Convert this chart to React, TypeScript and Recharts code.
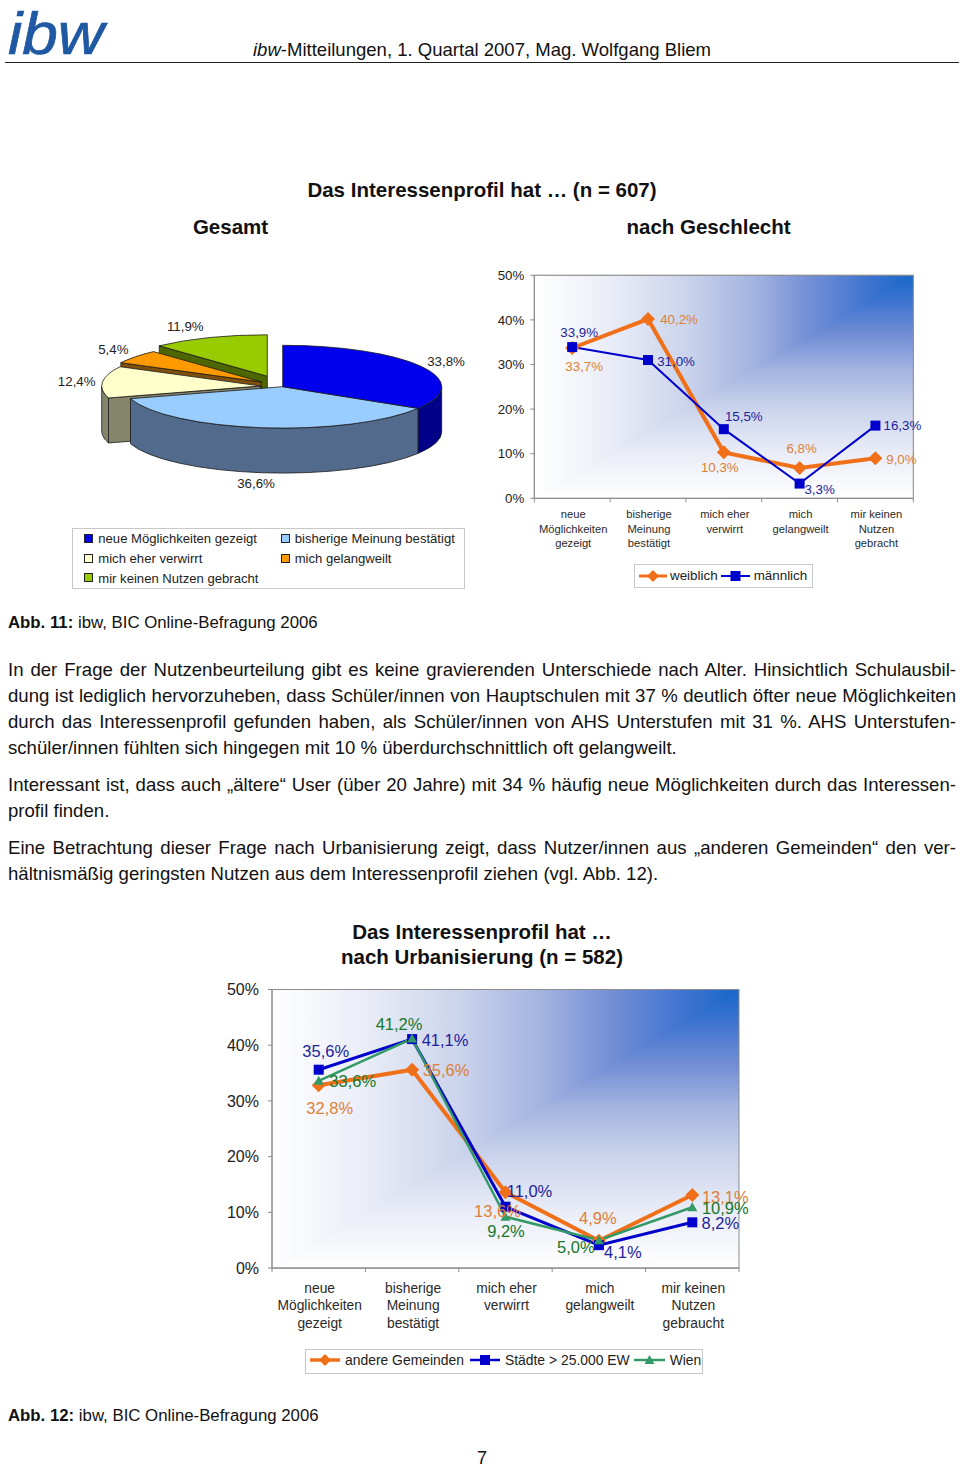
import React from 'react';
import { PieChart, Pie, LineChart, Line, XAxis, YAxis, CartesianGrid, ReferenceArea, LabelList, Legend } from 'recharts';

// ---------- data ----------
const pieCategories = ['neue Möglichkeiten gezeigt', 'bisherige Meinung bestätigt', 'mich eher verwirrt', 'mich gelangweilt', 'mir keinen Nutzen gebracht'];
const pieValues = [33.8, 36.6, 12.4, 5.4, 11.9];

const genderCategories = ['neue\nMöglichkeiten\ngezeigt', 'bisherige\nMeinung\nbestätigt', 'mich eher\nverwirrt', 'mich\ngelangweilt', 'mir keinen\nNutzen\ngebracht'];
const weiblichValues = [33.7, 40.2, 10.3, 6.8, 9.0];
const maennlichValues = [33.9, 31.0, 15.5, 3.3, 16.3];

const urbanCategories = ['neue\nMöglichkeiten\ngezeigt', 'bisherige\nMeinung\nbestätigt', 'mich eher\nverwirrt', 'mich\ngelangweilt', 'mir keinen\nNutzen\ngebraucht'];
const andereValues = [32.8, 35.6, 13.6, 4.9, 13.1];
const staedteValues = [35.6, 41.1, 11.0, 4.1, 8.2];
const wienValues = [33.6, 41.2, 9.2, 5.0, 10.9];

const percentTicks = [0, 10, 20, 30, 40, 50];

const bodyLines = [
  { y: 670, t: 'In der Frage der Nutzenbeurteilung gibt es keine gravierenden Unterschiede nach Alter. Hinsichtlich Schulausbil-', j: true },
  { y: 696, t: 'dung ist lediglich hervorzuheben, dass Schüler/innen von Hauptschulen mit 37 % deutlich öfter neue Möglichkeiten', j: true },
  { y: 722, t: 'durch das Interessenprofil gefunden haben, als Schüler/innen von AHS Unterstufen mit 31 %. AHS Unterstufen-', j: true },
  { y: 748, t: 'schüler/innen fühlten sich hingegen mit 10 % überdurchschnittlich oft gelangweilt.', j: false },
  { y: 785, t: 'Interessant ist, dass auch „ältere“ User (über 20 Jahre) mit 34 % häufig neue Möglichkeiten durch das Interessen-', j: true },
  { y: 811, t: 'profil finden.', j: false },
  { y: 848, t: 'Eine Betrachtung dieser Frage nach Urbanisierung zeigt, dass Nutzer/innen aus „anderen Gemeinden“ den ver-', j: true },
  { y: 874, t: 'hältnismäßig geringsten Nutzen aus dem Interessenprofil ziehen (vgl. Abb. 12).', j: false },
];

// ---------- styles / layout (separate from the data) ----------
const FONT = '"Liberation Sans", Arial, sans-serif';
const sliceStyle = [
  { top: '#0000ee', wall: '#000088', dx: 0, dy: 0, lx: 163.3, ly: -25.7 },
  { top: '#99ccff', wall: '#526a8c', dx: 0, dy: 0, lx: -26.7, ly: 96.3 },
  { top: '#ffffcc', wall: '#85856c', dx: -22, dy: -0.7, lx: -206, ly: -5 },
  { top: '#ff9900', wall: '#7f4f0c', dx: -21.2, dy: -4.7, lx: -169.4, ly: -37.7 },
  { top: '#99cc00', wall: '#4d6600', dx: -15.4, dy: -10.5, lx: -97.4, ly: -60.7 },
];
const RX = 159, RY = 41.4, DEPTH = 45;

const pieData = pieCategories
  .map((name, i) => ({ name, value: pieValues[i], idx: i }))
  .reverse();

const rad = (d: number) => (d * Math.PI) / 180;
const pt = (cx: number, cy: number, t: number) => [cx + RX * Math.sin(rad(t)), cy - RY * Math.cos(rad(t))];

function Slice3D(p: any) {
  const idx = p.idx ?? p.payload?.idx ?? 0;
  const s = sliceStyle[idx];
  const cx = p.cx + s.dx, cy = p.cy + s.dy;
  const span = Math.abs(p.endAngle - p.startAngle);
  const t1 = (((90 - Math.max(p.startAngle, p.endAngle)) % 360) + 360) % 360;
  const t2 = t1 + span;
  const [ax, ay] = pt(cx, cy, t1);
  const [bx, by] = pt(cx, cy, t2);
  const large = span > 180 ? 1 : 0;
  const wa = Math.max(t1, 90), wb = Math.min(t2, 270);
  const stroke = '#1c1c1c';
  const els: any[] = [];
  if (t1 > 180) {
    els.push(<path key="f" d={`M${cx} ${cy}L${ax} ${ay}L${ax} ${ay + DEPTH}L${cx} ${cy + DEPTH}Z`} fill={s.wall} stroke={stroke} strokeWidth={0.8} />);
  }
  if (wb > wa) {
    const [wx1, wy1] = pt(cx, cy, wa);
    const [wx2, wy2] = pt(cx, cy, wb);
    els.push(<path key="w" d={`M${wx1} ${wy1}A${RX} ${RY} 0 0 1 ${wx2} ${wy2}L${wx2} ${wy2 + DEPTH}A${RX} ${RY} 0 0 0 ${wx1} ${wy1 + DEPTH}Z`} fill={s.wall} stroke={stroke} strokeWidth={0.8} />);
  }
  els.push(<path key="t" d={`M${cx} ${cy}L${ax} ${ay}A${RX} ${RY} 0 ${large} 1 ${bx} ${by}Z`} fill={s.top} stroke={stroke} strokeWidth={0.8} />);
  return <g>{els}</g>;
}

function PieLabel(p: any) {
  const idx = p.idx ?? p.payload?.idx ?? 0;
  const s = sliceStyle[idx];
  return (
    <text x={p.cx + s.lx} y={p.cy + s.ly} textAnchor="middle" dominantBaseline="central" fontSize={13.3} fontFamily={FONT} fill="#222">
      {fmt(p.value)}
    </text>
  );
}

const fmt = (v: number) => v.toFixed(1).replace('.', ',') + '%';

const STOPS: [number, string][] = [[0, '#1767c9'], [0.12, '#3f74d0'], [0.28, '#7690d6'], [0.42, '#a2b3e0'], [0.6, '#cbd4ec'], [0.8, '#eaedf7'], [1, '#ffffff']];

function PlotBg({ x, y, width: w, height: h, gid }: any) {
  return (
    <g>
      <defs>
        <linearGradient id={gid + 'h'} x1="1" y1="0" x2="0" y2="0">
          {STOPS.map(([o, c]) => <stop key={o} offset={o} stopColor={c} />)}
        </linearGradient>
        <linearGradient id={gid + 'v'} x1="0" y1="0" x2="0" y2="1">
          {STOPS.map(([o, c]) => <stop key={o} offset={o} stopColor={c} />)}
        </linearGradient>
      </defs>
      <rect x={x} y={y} width={w} height={h} fill={`url(#${gid}h)`} />
      <polygon points={`${x + w},${y} ${x + w},${y + h} ${x},${y + h}`} fill={`url(#${gid}v)`} />
      <rect x={x} y={y} width={w} height={h} fill="none" stroke="#8c8c8c" strokeWidth={1} />
    </g>
  );
}

function CatTick({ x, y, payload, index, band, fs, lh, first, last }: any) {
  const lines = String(payload.value).split('\n');
  return (
    <g>
      <line x1={x - band / 2} x2={x - band / 2} y1={y} y2={y + 4} stroke="#8c8c8c" />
      {index === last && <line x1={x + band / 2} x2={x + band / 2} y1={y} y2={y + 4} stroke="#8c8c8c" />}
      <text textAnchor="middle" fontSize={fs} fontFamily={FONT} fill="#2a2a2a">
        {lines.map((l: string, i: number) => (
          <tspan key={i} x={x + 1} y={y + first + i * lh} dominantBaseline="central">{l}</tspan>
        ))}
      </text>
    </g>
  );
}

type Off = [number, number][];
const valueLabel = (offsets: Off, color: string, fs: number) => (p: any) => {
  const [dx, dy] = offsets[p.index];
  return (
    <text key={p.index} x={p.x + dx} y={p.y + dy} textAnchor="middle" dominantBaseline="central" fontSize={fs} fontFamily={FONT} fill={color}>
      {fmt(Number(p.value))}
    </text>
  );
};

const marker = (kind: string, color: string, r: number) => (p: any) => {
  const { cx, cy, index } = p;
  if (kind === 'diamond') return <polygon key={index} points={`${cx},${cy - r} ${cx + r},${cy} ${cx},${cy + r} ${cx - r},${cy}`} fill={color} />;
  if (kind === 'square') return <rect key={index} x={cx - r} y={cy - r} width={2 * r} height={2 * r} fill={color} />;
  return <polygon key={index} points={`${cx},${cy - r} ${cx + r},${cy + r * 0.8} ${cx - r},${cy + r * 0.8}`} fill={color} />;
};

const LG = ({ kind, color, w, sw, r }: any) => (
  <svg width={w} height={16} style={{ display: 'block', flex: 'none' }}>
    <line x1={0} x2={w} y1={8} y2={8} stroke={color} strokeWidth={sw} />
    {marker(kind, color, r)({ cx: w / 2, cy: 8, index: 0 })}
  </svg>
);

const ORANGE = '#f0701a', BLUE = '#0000cc', GREEN = '#339966';
const L_ORANGE = '#dd7f35', L_BLUE = '#22229c', L_GREEN = '#16782a';

const T = ({ x, y, s, b, center, children, c, lh }: any) => (
  <div style={{ position: 'absolute', left: x, top: y, transform: center ? 'translate(-50%,-50%)' : 'translateY(-50%)', fontSize: s, fontWeight: b ? 700 : 400, color: c || '#111', whiteSpace: 'nowrap', lineHeight: lh || 1.25 }}>{children}</div>
);

const genderData = genderCategories.map((c, i) => ({ c, w: weiblichValues[i], m: maennlichValues[i] }));
const urbanData = urbanCategories.map((c, i) => ({ c, a: andereValues[i], s: staedteValues[i], v: wienValues[i] }));

const wOff: Off = [[12, 19], [31, 0.5], [-4, 15], [2, -19], [26, 1]];
const mOff: Off = [[7, -15], [28, 1], [20, -13], [20, 6], [27, 0]];
const aOff: Off = [[11, 23], [34, 0], [-8, 19], [-1, -23], [33, 2]];
const sOff: Off = [[7, -19], [33, 1], [24, -16], [24, 7], [28, 1]];
const vOff: Off = [[34, 0], [-13, -14.5], [0.5, 14], [-23, 7], [33, 1]];

const pieSwatches = [[84.3, 538.5], [280.7, 538.5], [84.3, 558.5], [280.7, 558.5], [84.3, 578]];

export default function App() {
  return (
    <div style={{ position: 'absolute', left: 0, top: 0, width: 960, height: 1467, background: '#fff', overflow: 'hidden', fontFamily: FONT }}>
      {/* header */}
      <div style={{ position: 'absolute', left: 8, top: -1, height: 70, fontSize: 64, fontStyle: 'italic', color: '#1f58a3', lineHeight: '70px', transform: 'scaleY(0.92)', WebkitTextStroke: '0.8px #1f58a3' } as any}>ibw</div>
      <T x={253} y={49.5} s={18.55}><i>ibw</i>-Mitteilungen, 1. Quartal 2007, Mag. Wolfgang Bliem</T>
      <div style={{ position: 'absolute', left: 5, top: 62, width: 954, height: 1, background: '#222' }} />

      <T x={482} y={190} s={20.5} b center>Das Interessenprofil hat … (n = 607)</T>
      <T x={230.5} y={227} s={20.5} b center>Gesamt</T>
      <T x={708.5} y={227} s={20.5} b center>nach Geschlecht</T>

      {/* pie */}
      <div style={{ position: 'absolute', left: 40, top: 260 }}>
        <PieChart width={440} height={335} margin={{ top: 0, right: 0, bottom: 0, left: 0 }}>
          <Pie
            data={pieData}
            dataKey="value"
            nameKey="name"
            cx={242.7}
            cy={126.7}
            outerRadius={RX}
            startAngle={90}
            endAngle={450}
            isAnimationActive={false}
            shape={Slice3D as any}
            label={PieLabel as any}
            labelLine={false}
          />
          <Legend
            layout="horizontal"
            verticalAlign="middle"
            align="center"
            wrapperStyle={{ left: 32, top: 268, right: 'auto', bottom: 'auto', width: 393, height: 61 }}
            content={() => (
              <div style={{ position: 'relative', width: 393, height: 61, boxSizing: 'border-box', border: '1px solid #c8c8c8' }}>
                {pieCategories.map((c, i) => (
                  <React.Fragment key={c}>
                    <div style={{ position: 'absolute', left: pieSwatches[i][0] - 73, top: pieSwatches[i][1] - 534, width: 9, height: 9, boxSizing: 'border-box', background: sliceStyle[i].top, border: '1px solid #222' }} />
                    <div style={{ position: 'absolute', left: pieSwatches[i][0] - 73 + 14, top: pieSwatches[i][1] - 528.5 - 8, fontSize: 13.1, lineHeight: '16px', color: '#222', whiteSpace: 'nowrap' }}>{c}</div>
                  </React.Fragment>
                ))}
              </div>
            )}
          />
        </PieChart>
      </div>

      {/* gender */}
      <div style={{ position: 'absolute', left: 490, top: 260 }}>
        <LineChart width={450} height={340} data={genderData} margin={{ top: 15.3, right: 26.7, bottom: 0, left: 0 }}>
          <ReferenceArea y1={0} y2={50} ifOverflow="visible" shape={(p: any) => <PlotBg {...p} gid="g1" />} />
          <CartesianGrid vertical={false} stroke="#7f7f7f" strokeOpacity={0.75} />
          <XAxis dataKey="c" scale="band" height={101.7} interval={0} tickLine={false} tickSize={0} tickMargin={0} stroke="#8c8c8c"
            tick={(p: any) => <CatTick {...p} band={75.8} fs={11.2} lh={14.5} first={16} last={4} />} />
          <YAxis width={44.3} domain={[0, 50]} ticks={percentTicks} tickFormatter={(v: number) => `${v}%`} tickSize={4} tickMargin={6} stroke="#8c8c8c"
            tick={{ fontSize: 13.3, fontFamily: FONT, fill: '#222' }} />
          <Line dataKey="w" name="weiblich" stroke={ORANGE} strokeWidth={4} isAnimationActive={false} dot={marker('diamond', ORANGE, 7)}>
            <LabelList dataKey="w" content={valueLabel(wOff, L_ORANGE, 13.3)} />
          </Line>
          <Line dataKey="m" name="männlich" stroke={BLUE} strokeWidth={2} isAnimationActive={false} dot={marker('square', BLUE, 5)}>
            <LabelList dataKey="m" content={valueLabel(mOff, L_BLUE, 13.3)} />
          </Line>
          <Legend layout="horizontal" verticalAlign="middle" align="center"
            wrapperStyle={{ left: 144, top: 304, right: 'auto', bottom: 'auto', width: 179, height: 24 }}
            content={() => (
              <div style={{ width: 179, height: 24, boxSizing: 'border-box', border: '1px solid #c8c8c8', display: 'flex', alignItems: 'center', paddingLeft: 4, paddingBottom: 1, fontSize: 13.4, color: '#222', whiteSpace: 'nowrap' }}>
                <LG kind="diamond" color={ORANGE} w={28} sw={3} r={6} />
                <span style={{ marginLeft: 3 }}>weiblich</span>
                <span style={{ width: 3.5 }} />
                <LG kind="square" color={BLUE} w={29} sw={2} r={5} />
                <span style={{ marginLeft: 3.5 }}>männlich</span>
              </div>
            )} />
        </LineChart>
      </div>

      <T x={8} y={623} s={16.8}><b>Abb. 11:</b> ibw, BIC Online-Befragung 2006</T>

      {bodyLines.map((l) => (
        <div key={l.y} style={{ position: 'absolute', left: 8, top: l.y, width: 948, transform: 'translateY(-50%)', fontSize: 18.6, lineHeight: 1.25, color: '#111', whiteSpace: 'nowrap', textAlign: 'left', ...(l.j ? { textAlignLast: 'justify', whiteSpace: 'normal' } : {}) } as any}>{l.t}</div>
      ))}

      <T x={482} y={932} s={20.5} b center>Das Interessenprofil hat …</T>
      <T x={482} y={957} s={20.5} b center>nach Urbanisierung (n = 582)</T>

      {/* urbanisation */}
      <div style={{ position: 'absolute', left: 210, top: 970 }}>
        <LineChart width={550} height={410} data={urbanData} margin={{ top: 19.5, right: 21, bottom: 0, left: 0 }}>
          <ReferenceArea y1={0} y2={50} ifOverflow="visible" shape={(p: any) => <PlotBg {...p} gid="g2" />} />
          <CartesianGrid vertical={false} stroke="#7f7f7f" strokeOpacity={0.75} />
          <XAxis dataKey="c" scale="band" height={112} interval={0} tickLine={false} tickSize={0} tickMargin={0} stroke="#8c8c8c"
            tick={(p: any) => <CatTick {...p} band={93.4} fs={13.8} lh={17.5} first={20} last={4} />} />
          <YAxis width={62} domain={[0, 50]} ticks={percentTicks} tickFormatter={(v: number) => `${v}%`} tickSize={4} tickMargin={9} stroke="#8c8c8c"
            tick={{ fontSize: 16, fontFamily: FONT, fill: '#222' }} />
          <Line dataKey="a" name="andere Gemeinden" stroke={ORANGE} strokeWidth={4} isAnimationActive={false} dot={marker('diamond', ORANGE, 7)}>
            <LabelList dataKey="a" content={valueLabel(aOff, L_ORANGE, 16.5)} />
          </Line>
          <Line dataKey="s" name="Städte > 25.000 EW" stroke={BLUE} strokeWidth={3} isAnimationActive={false} dot={marker('square', BLUE, 5)}>
            <LabelList dataKey="s" content={valueLabel(sOff, L_BLUE, 16.5)} />
          </Line>
          <Line dataKey="v" name="Wien" stroke={GREEN} strokeWidth={2.5} isAnimationActive={false} dot={marker('triangle', GREEN, 5)}>
            <LabelList dataKey="v" content={valueLabel(vOff, L_GREEN, 16.5)} />
          </Line>
          <Legend layout="horizontal" verticalAlign="middle" align="center"
            wrapperStyle={{ left: 95, top: 379, right: 'auto', bottom: 'auto', width: 398, height: 25 }}
            content={() => (
              <div style={{ width: 398, height: 25, boxSizing: 'border-box', border: '1px solid #c8c8c8', display: 'flex', alignItems: 'center', paddingLeft: 4, paddingBottom: 3, fontSize: 13.9, color: '#222', whiteSpace: 'nowrap' }}>
                <LG kind="diamond" color={ORANGE} w={30} sw={3.5} r={6} />
                <span style={{ marginLeft: 5 }}>andere Gemeinden</span>
                <span style={{ width: 6 }} />
                <LG kind="square" color={BLUE} w={30} sw={2.5} r={5} />
                <span style={{ marginLeft: 5 }}>Städte &gt; 25.000 EW</span>
                <span style={{ width: 4 }} />
                <LG kind="triangle" color={GREEN} w={31} sw={2.5} r={5} />
                <span style={{ marginLeft: 5 }}>Wien</span>
              </div>
            )} />
        </LineChart>
      </div>

      <T x={8} y={1416} s={16.8}><b>Abb. 12:</b> ibw, BIC Online-Befragung 2006</T>
      <T x={482} y={1458} s={18} lh={0.8} center>7</T>
    </div>
  );
}
